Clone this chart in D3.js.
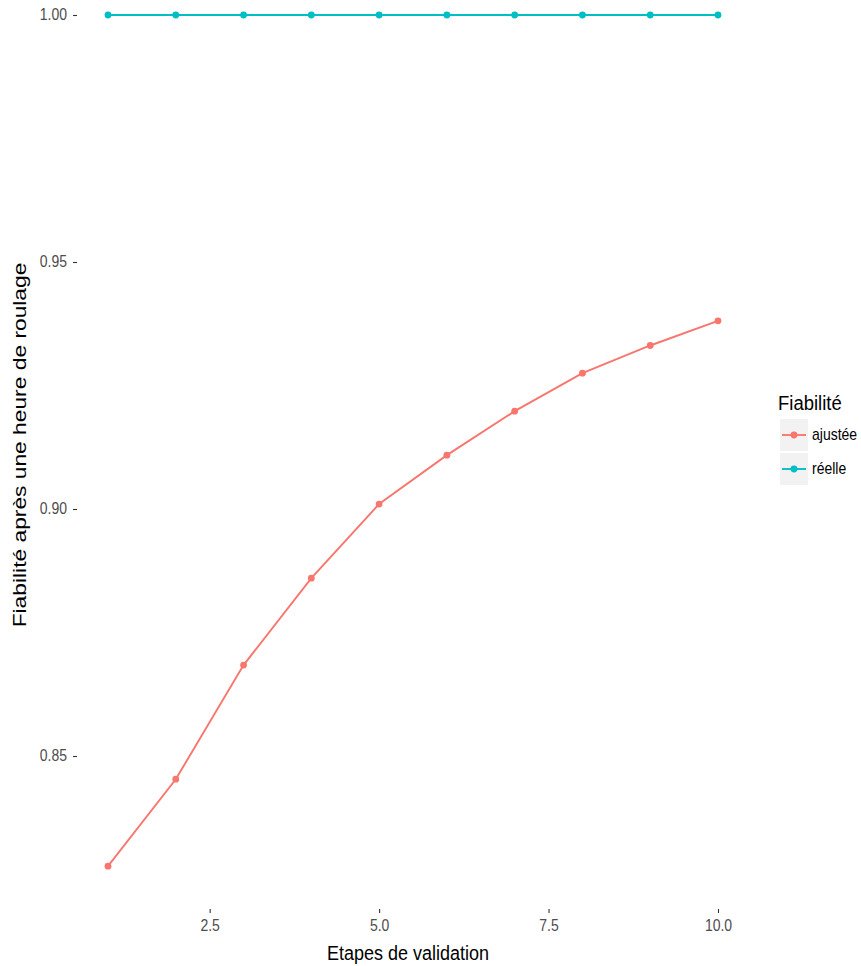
<!DOCTYPE html>
<html>
<head>
<meta charset="utf-8">
<script src="https://cdn.jsdelivr.net/npm/d3@7"></script>
<style>
  html, body { margin: 0; padding: 0; background: #fff; }
  svg { display: block; font-family: "Liberation Sans", Arial, sans-serif; }
</style>
</head>
<body>
<svg id="chart" width="861" height="966"></svg>
<script>
// ---- data ----
const steps = [1, 2, 3, 4, 5, 6, 7, 8, 9, 10];
const ajustee = [0.8277, 0.8453, 0.8684, 0.8860, 0.9010, 0.9109, 0.9198, 0.9275, 0.9331, 0.9381];
const reelle = [1, 1, 1, 1, 1, 1, 1, 1, 1, 1];
const seriesNames = ["ajustée", "réelle"];
const seriesColors = ["#F8766D", "#00BFC4"];
const xTicks = [2.5, 5.0, 7.5, 10.0];
const yTicks = [0.85, 0.90, 0.95, 1.00];
const xTitle = "Etapes de validation";
const yTitle = "Fiabilité après une heure de roulage";
const legendTitle = "Fiabilité";

const svg = d3.select("#chart");

const x = d3.scaleLinear().domain([1, 10]).range([108, 718]);
const y = d3.scaleLinear().domain([0.85, 1.00]).range([756, 15]);
const panelBottom = 909;
const panelLeft = 77;

// axes
const xAxis = d3.axisBottom(x).tickValues(xTicks).tickFormat(d3.format(".1f")).tickSize(4).tickPadding(4);
const yAxis = d3.axisLeft(y).tickValues(yTicks).tickFormat(d3.format(".2f")).tickSize(4).tickPadding(6);

const gx = svg.append("g").attr("transform", `translate(0,${panelBottom})`).call(xAxis);
const gy = svg.append("g").attr("transform", `translate(${panelLeft},0)`).call(yAxis);
[gx, gy].forEach(g => {
  g.select(".domain").remove();
  g.selectAll(".tick line").attr("stroke", "#333333").attr("stroke-width", 1.1);
  g.selectAll(".tick text").attr("fill", "#4D4D4D").style("font-size", "14px")
    .style("font-family", "'Liberation Sans', Arial, sans-serif")
    .attr("transform", "scale(1,1.22)");
});
gy.selectAll(".tick text").attr("dy", "0.28em");

// axis titles
svg.append("text").attr("transform", `translate(408,960) scale(1,1.1)`)
  .attr("text-anchor", "middle").attr("fill", "#000").style("font-size", "18px").text(xTitle);
svg.append("text").attr("transform", `translate(26,445) rotate(-90) scale(1.2,1)`)
  .attr("text-anchor", "middle").attr("fill", "#000").style("font-size", "19px").text(yTitle);

// series
const allSeries = [ajustee, reelle];
const line = d3.line().x((d, i) => x(steps[i])).y(d => y(d));
allSeries.forEach((vals, si) => {
  svg.append("path").datum(vals).attr("d", line).attr("fill", "none")
    .attr("stroke", seriesColors[si]).attr("stroke-width", 1.9);
  svg.append("g").selectAll("circle").data(vals).join("circle")
    .attr("cx", (d, i) => x(steps[i])).attr("cy", d => y(d)).attr("r", 3.4)
    .attr("fill", seriesColors[si]);
});

// legend
const lg = svg.append("g");
lg.append("text").attr("transform", "translate(778,410) scale(1,1.1)").attr("fill", "#000")
  .style("font-size", "18.5px").text(legendTitle);
seriesNames.forEach((name, i) => {
  const top = 419 + i * 34;
  lg.append("rect").attr("x", 780).attr("y", top).attr("width", 28).attr("height", 32).attr("fill", "#F2F2F2");
  lg.append("line").attr("x1", 782).attr("x2", 806).attr("y1", top + 16).attr("y2", top + 16)
    .attr("stroke", seriesColors[i]).attr("stroke-width", 1.9);
  lg.append("circle").attr("cx", 794).attr("cy", top + 16).attr("r", 3.4).attr("fill", seriesColors[i]);
  lg.append("text").attr("transform", `translate(812,${top + 21}) scale(1,1.15)`).attr("fill", "#000")
    .style("font-size", "14px").text(name);
});
</script>
</body>
</html>
